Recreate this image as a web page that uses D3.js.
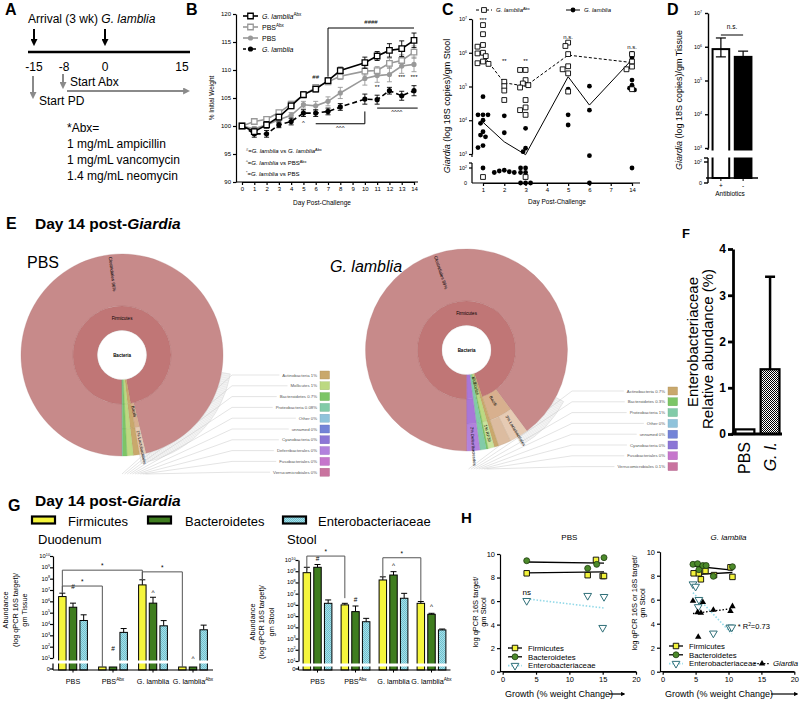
<!DOCTYPE html>
<html><head><meta charset="utf-8">
<script src="https://cdn.jsdelivr.net/npm/d3@7"></script>
<style>body{margin:0;background:#fff}svg{display:block}</style>
</head><body><svg id="c" width="800" height="701"></svg>
<script>
// ================= DATA =================
// Panel A (timeline, days)
const aTicks = [-15, -8, 0, 15];
const aAbx = ["*Abx=", "1 mg/mL ampicillin", "1 mg/mL vancomycin", "1.4 mg/mL neomycin"];
// Panel B (% initial weight, mean and SEM)
const bDays = [0,1,2,3,4,5,6,7,8,10,11,12,13,14];
const bGlAbx    = [100,99.0,100.2,101.6,103.6,105.6,106.6,108.1,109.9,111.3,112.5,113.5,113.8,115.3];
const bGlAbxErr = [0.3,0.6,0.6,0.5,0.5,0.5,0.5,0.5,0.6,1.0,0.8,1.2,1.4,1.3];
const bPbsAbx    = [100,100.8,101.2,102.4,103.9,105.5,106.9,107.9,108.9,109.8,109.9,111.2,111.7,113.2];
const bPbsAbxErr = [0.3,0.4,0.4,0.4,0.5,0.5,0.5,0.5,0.6,0.7,0.7,0.9,1.0,1.1];
const bPbs    = [100,99.5,100.2,101.1,101.9,103.8,103.6,104.4,105.9,108.5,109.0,109.2,110.7,111.0];
const bPbsErr = [0.3,0.4,0.4,0.5,0.5,0.6,0.8,0.8,1.0,1.2,1.2,1.3,1.3,1.3];
const bGl    = [100,98.6,98.6,100.2,100.8,102.3,102.3,102.6,103.4,104.8,104.7,106.3,105.4,106.3];
const bGlErr = [0.3,0.6,0.6,0.5,0.6,0.6,0.6,0.6,0.6,0.9,0.8,0.6,0.8,0.9];
// Panel C (log10 Giardia 18S copies / gm stool; null = 0)
const cDays = ["1","2","3","4","5","6","7","14"];
const cAbxDays = ["1","2","3","5","14"];
const cAbxVals = [
  [6.82,6.55,6.23,6.18,6.0,5.98,5.9,5.74,5.69,5.67,1.4],
  [5.14,5.01,4.88,4.6],
  [5.49,5.49,5.19,5.09,5.04,4.97,4.6,4.38,4.3,4.16,1.4],
  [6.3,6.2,5.96,5.6,5.51,5.39,4.85],
  [5.96,5.74,5.59,5.51,4.92]];
const cAbxMean = [5.93,5.11,5.01,5.93,5.71];
const cGlDays = ["1","2","3","5","6","14"];
const cGlVals = [
  [4.7,4.16,4.16,4.16,4.0,3.91,3.66,3.56,3.51,3.25,3.19,2.0],
  [4.13,3.63,1.85,1.8,1.75,1.7,1.7],
  [3.76,3.17,3.07,2.0,2.0,1.7,1.7,null,null,null],
  [4.92,4.16,3.86],
  [5.01,4.3,2.95,null],
  [5.98,5.85,5.19,5.04,4.95,4.9,2.0]];
const cGlMean = [3.94,3.36,2.98,5.29,4.45,5.8];
const cSig = [["1","***"],["2","**"],["3","**"],["5","n.s."],["14","n.s."]];
const cSigLevel = [6.9, 5.7, 5.7, 6.4, 6.1];
// Panel D (log10 copies / gm tissue)
const dGroups = ["+","-"];
const dVals = [5.93, 5.70];
const dErrHi = [6.26, 5.87];
const dErrLo = [5.70, 5.70];
// Panel E (Krona composition, %)
const ePbsOrders  = ["Clostridiales","Lactobacillales","Actinobacteria","Mollicutes","Bacteroidetes","Proteobacteria"];
const ePbsClasses = ["Clostridia","Bacilli","Actinobacteria","Mollicutes","Bacteroidetes","Proteobacteria"];
const ePbsPhyla   = ["Firmicutes","Firmicutes","Actinobacteria","Mollicutes","Bacteroidetes","Proteobacteria"];
const ePbsPct     = [96, 1, 1, 1, 0.7, 0.08];
const ePbsLegend    = ["Actinobacteria","Mollicutes","Bacteroidetes","Proteobacteria","Other","unnamed","Cyanobacteria","Deferribacterales","Fusobacteriales","Verrucomicrobiales"];
const ePbsLegendPct = ["1%","1%","0.7%","0.08%","0%","0%","0%","0%","0%","0%"];
const eGlOrders  = ["Clostridiales","Lactobacillales","Erysipelotrichales","Actinobacteria","RF39","Bacteroidetes","Proteobacteria","Deferribacterales","Verrucomicrobiales"];
const eGlClasses = ["Clostridia","Bacilli","Bacilli","Actinobacteria","Mollicutes","Bacteroidetes","Proteobacteria","Deferribacteres","Verrucomicrobia"];
const eGlPhyla   = ["Firmicutes","Firmicutes","Firmicutes","Actinobacteria","Mollicutes","Bacteroidetes","Proteobacteria","Deferribacteres","Verrucomicrobia"];
const eGlPct     = [89, 3, 2, 0.7, 1, 0.3, 1, 2, 0.1];
const eGlLegend    = ["Actinobacteria","Bacteroidetes","Proteobacteria","Other","unnamed","Cyanobacteria","Fusobacteriales","Verrucomicrobiales"];
const eGlLegendPct = ["0.7%","0.3%","1%","0%","0%","0%","0%","0.1%"];
// Panel F (relative abundance %)
const fGroups = ["PBS","G. l."];
const fVals = [0.1, 1.4];
const fErr  = [0, 2.0];
// Panel G (log10 abundance; 0 = none detected)
const gGroups = ["PBS","PBSAbx","G. lamblia","G. lambliaAbx"];
const gSeries = ["Firmicutes","Bacteroidetes","Enterobacteriaceae"];
const gDuoFirm = [6.42, 0, 7.45, 0],  gDuoFirmErr = [6.72, null, 7.9, null];
const gDuoBact = [5.48, 0, 5.84, 0],  gDuoBactErr = [5.84, null, 6.36, null];
const gDuoEnt  = [4.31, 3.26, 3.84, 3.49], gDuoEntErr = [4.81, 3.6, 4.3, 3.9];
const gStFirm = [8.87, 6.0, 8.22, 6.14], gStFirmErr = [9.35, 6.14, 8.5, 6.3];
const gStBact = [9.35, 5.4, 8.66, 5.16], gStBactErr = [9.6, 5.9, 8.96, 5.25];
const gStEnt  = [6.14, 4.5, 6.59, 3.77], gStEntErr = [6.44, 4.8, 7.03, 3.85];
// Panel H (growth % vs log qPCR)
const hPbsFirmX = [3.6,12.75,14.0,15.0,15.2], hPbsFirmY = [8.36,8.2,9.5,8.13,8.13];
const hPbsBactX = [3.6,12.75,14.1,15.2],      hPbsBactY = [9.43,8.78,9.12,9.69];
const hPbsEntX  = [3.6,12.75,15.2,15.0],      hPbsEntY  = [6.03,6.46,6.37,3.74];
const hGlFirmX = [4.7,5.5,5.8,6.5,7.8,10.3,10.6], hGlFirmY = [8.2,8.2,7.7,8.4,8.05,8.7,7.9];
const hGlBactX = [4.6,5.3,5.5,6.1,6.6,7.7,10.6],  hGlBactY = [8.95,9.0,8.5,8.85,8.85,7.95,8.75];
const hGlEntX  = [4.6,5.0,5.5,5.4,7.7,10.2,10.5], hGlEntY  = [7.3,7.1,6.0,5.4,3.2,3.7,3.7];
const hGlGiaX  = [4.6,6.1,5.3,5.8,7.7,10.3,10.6,5.4], hGlGiaY = [5.9,5.8,4.95,4.9,5.15,5.05,5.45,2.9];

// ================= HELPERS =================
const F = "'Liberation Sans', Arial, Helvetica, sans-serif";
const svg = d3.select("#c");
const defs = svg.append("defs");
function mk(id, color) {
  defs.append("marker").attr("id", id).attr("viewBox", "0 0 10 10").attr("refX", 7).attr("refY", 5)
    .attr("markerWidth", 3.5).attr("markerHeight", 3.5).attr("orient", "auto")
    .append("path").attr("d", "M0,0L10,5L0,10z").attr("fill", color);
}
mk("ahK", "#000"); mk("ahG", "#8a8a8a");
const chk = defs.append("pattern").attr("id", "chk").attr("width", 2).attr("height", 2).attr("patternUnits", "userSpaceOnUse");
chk.append("rect").attr("width", 2).attr("height", 2).attr("fill", "#fff");
chk.append("rect").attr("width", 1).attr("height", 1).attr("fill", "#000");
chk.append("rect").attr("x", 1).attr("y", 1).attr("width", 1).attr("height", 1).attr("fill", "#000");
const ent = defs.append("pattern").attr("id", "ent").attr("width", 2).attr("height", 2).attr("patternUnits", "userSpaceOnUse");
ent.append("rect").attr("width", 2).attr("height", 2).attr("fill", "#a6e0ea");
ent.append("rect").attr("width", 1).attr("height", 1).attr("fill", "#6fbfcc");
ent.append("rect").attr("x", 1).attr("y", 1).attr("width", 1).attr("height", 1).attr("fill", "#6fbfcc");

function txt(g, x, y, parts, o = {}) {
  const fs = o.fs || 10;
  const t = g.append("text").attr("x", x).attr("y", y).attr("font-size", fs).attr("font-family", F)
    .attr("text-anchor", o.anchor || "start").attr("fill", o.fill || "#000");
  if (o.bold) t.attr("font-weight", "bold");
  if (o.italic) t.attr("font-style", "italic");
  if (o.rotate) t.attr("transform", `rotate(${o.rotate},${x},${y})`);
  if (typeof parts === "string") parts = [[parts, ""]];
  let up = false;
  for (const [s, f] of parts) {
    const ts = t.append("tspan").text(s);
    if (f.includes("i")) ts.attr("font-style", "italic");
    if (f.includes("b")) ts.attr("font-weight", "bold");
    const sup = f.includes("s");
    if (sup) ts.attr("font-size", fs * 0.65);
    if (sup && !up) { ts.attr("dy", -fs * 0.4); up = true; }
    else if (!sup && up) { ts.attr("dy", fs * 0.4); up = false; }
  }
  return t;
}
function line(g, x1, y1, x2, y2, c = "#000", w = 1, dash = null) {
  const l = g.append("line").attr("x1", x1).attr("y1", y1).attr("x2", x2).attr("y2", y2).attr("stroke", c).attr("stroke-width", w);
  if (dash) l.attr("stroke-dasharray", dash);
  return l;
}
function styl(sel, sw = 1, fs = 6) {
  sel.attr("font-family", F).attr("font-size", fs);
  sel.selectAll(".domain").attr("stroke", "#000").attr("stroke-width", sw);
  sel.selectAll(".tick line").attr("stroke", "#000").attr("stroke-width", sw);
  sel.selectAll(".tick text").attr("fill", "#000");
  return sel;
}
function pow(e) { return [["10", ""], [String(e), "s"]]; }
const sqPath = s => `M${-s/2},${-s/2}h${s}v${s}h${-s}z`;

// ================= PANEL A =================
{
  const g = svg.append("g");
  const xA = d3.scaleLinear().domain([-15, -8, 0, 15]).range([34, 64, 105, 182]);
  txt(g, 5, 15, "A", { fs: 16, bold: true });
  txt(g, 28, 23, [["Arrival (3 wk) ", ""], ["G. lamblia", "i"]], { fs: 12 });
  line(g, 28, 52, 190, 52, "#000", 2.5);
  line(g, xA(-15), 29, xA(-15), 44, "#000", 2).attr("marker-end", "url(#ahK)");
  line(g, xA(0), 29, xA(0), 44, "#000", 2).attr("marker-end", "url(#ahK)");
  aTicks.forEach(d => txt(g, xA(d), 71, String(d), { fs: 12, anchor: "middle" }));
  line(g, xA(-15) - 1, 76, xA(-15) - 1, 97, "#8a8a8a", 2).attr("marker-end", "url(#ahG)");
  txt(g, 39, 105, "Start PD", { fs: 12 });
  line(g, xA(-8) - 1, 74, xA(-8) - 1, 87, "#8a8a8a", 2).attr("marker-end", "url(#ahG)");
  txt(g, 70, 86, "Start Abx", { fs: 12 });
  line(g, xA(-8) + 3, 91, 188, 91, "#8a8a8a", 2).attr("marker-end", "url(#ahG)");
  aAbx.forEach((s, i) => txt(g, 67, 132 + i * 16, s, { fs: 12 }));
}

// ================= PANEL B =================
{
  const g = svg.append("g");
  const xB = d3.scaleLinear([0, 14], [242, 414]);
  const yB = d3.scaleLinear([90, 120], [182, 14]);
  txt(g, 186, 15, "B", { fs: 16, bold: true });
  styl(g.append("g").attr("transform", "translate(236,0)")
    .call(d3.axisLeft(yB).tickValues(d3.range(90, 121, 5)).tickSize(3).tickSizeOuter(0).tickPadding(2)), 1.2, 6);
  styl(g.append("g").attr("transform", "translate(0,182)")
    .call(d3.axisBottom(xB).tickValues(d3.range(0, 15)).tickSize(3).tickSizeOuter(0).tickPadding(2)), 1.2, 6);
  line(g, 236, 182, 418, 182, "#000", 1.2);
  txt(g, 214, 98, "% Initial Weight", { fs: 6.5, anchor: "middle", rotate: -90 });
  txt(g, 322, 205, "Day Post-Challenge", { fs: 6.5, anchor: "middle" });
  const series = [
    { v: bPbs, e: bPbsErr, c: "#999", dash: null, m: "circle", fill: "#999" },
    { v: bPbsAbx, e: bPbsAbxErr, c: "#999", dash: null, m: "sq", fill: "#fff" },
    { v: bGl, e: bGlErr, c: "#000", dash: "5,3", m: "circle", fill: "#000" },
    { v: bGlAbx, e: bGlAbxErr, c: "#000", dash: null, m: "sq", fill: "#fff" }];
  const ln = d3.line().x((d, i) => xB(bDays[i])).y(d => yB(d));
  series.forEach(s => {
    const p = g.append("path").attr("d", ln(s.v)).attr("fill", "none").attr("stroke", s.c).attr("stroke-width", 1.6);
    if (s.dash) p.attr("stroke-dasharray", s.dash);
    s.v.forEach((v, i) => {
      const x = xB(bDays[i]);
      line(g, x, yB(v - s.e[i]), x, yB(v + s.e[i]), s.c, 0.9);
      line(g, x - 2.5, yB(v + s.e[i]), x + 2.5, yB(v + s.e[i]), s.c, 0.9);
      line(g, x - 2.5, yB(v - s.e[i]), x + 2.5, yB(v - s.e[i]), s.c, 0.9);
    });
    s.v.forEach((v, i) => {
      const x = xB(bDays[i]), y = yB(v);
      if (s.m === "sq") g.append("path").attr("d", sqPath(5.5)).attr("transform", `translate(${x},${y})`).attr("fill", s.fill).attr("stroke", s.c).attr("stroke-width", 1.3);
      else g.append("circle").attr("cx", x).attr("cy", y).attr("r", 2.6).attr("fill", s.fill);
    });
  });
  const lg = [
    { s: series[3], t: [["G. lamblia", "i"], ["Abx", "s"]] },
    { s: series[1], t: [["PBS", ""], ["Abx", "s"]] },
    { s: series[0], t: [["PBS", ""]] },
    { s: series[2], t: [["G. lamblia", "i"]] }];
  lg.forEach((d, i) => {
    const y = 16 + i * 11;
    const l = line(g, 243, y, 258, y, d.s.c, 1.6); if (d.s.dash) l.attr("stroke-dasharray", "3,2");
    if (d.s.m === "sq") g.append("path").attr("d", sqPath(5.5)).attr("transform", `translate(250.5,${y})`).attr("fill", "#fff").attr("stroke", d.s.c).attr("stroke-width", 1.3);
    else g.append("circle").attr("cx", 250.5).attr("cy", y).attr("r", 2.6).attr("fill", d.s.fill);
    txt(g, 262, y + 2.5, d.t, { fs: 7 });
  });
  txt(g, 246, 153, [["#", "s"], ["=", ""], ["G. lamblia", "i"], [" vs ", ""], ["G. lamblia", "i"], ["Abx", "s"]], { fs: 6 });
  txt(g, 246, 165, [["^", "s"], ["=", ""], ["G. lamblia", "i"], [" vs PBS", ""], ["Abx", "s"]], { fs: 6 });
  txt(g, 246, 176, [["*", "s"], ["=", ""], ["G. lamblia", "i"], [" vs PBS", ""]], { fs: 6 });
  line(g, xB(7), yB(117.5), xB(14), yB(117.5), "#000", 1);
  line(g, xB(7), yB(117.5), xB(7), yB(108.8), "#000", 1);
  txt(g, xB(10.5), yB(118.2), "####", { fs: 6, anchor: "middle" });
  txt(g, xB(6), yB(108.4), "##", { fs: 6, anchor: "middle" });
  txt(g, xB(5), yB(100.2), "^", { fs: 6, anchor: "middle" });
  line(g, xB(6), yB(100.4), xB(10), yB(100.4), "#000", 1);
  line(g, xB(10), yB(100.4), xB(10), yB(102.6), "#000", 1);
  txt(g, xB(8), yB(99.3), "^^^", { fs: 6, anchor: "middle" });
  line(g, xB(11), yB(103.2), xB(14.3), yB(103.2), "#000", 1);
  txt(g, xB(12.6), yB(102.1), "^^^^", { fs: 6, anchor: "middle" });
  txt(g, xB(11), yB(106.6), "**", { fs: 6, anchor: "middle" });
  txt(g, xB(13), yB(108.4), "***", { fs: 6, anchor: "middle" });
  txt(g, xB(14), yB(108.4), "***", { fs: 6, anchor: "middle" });
}

// ================= PANEL C =================
function swarm(ys, cx, d) {
  const placed = [], xs = new Array(ys.length);
  const order = d3.range(ys.length).sort((a, b) => ys[a] - ys[b]);
  for (const i of order) {
    let k = 0, x;
    while (true) {
      const off = k === 0 ? 0 : (k % 2 ? -1 : 1) * Math.ceil(k / 2) * d * 0.5;
      x = cx + off;
      if (!placed.some(p => Math.hypot(p[0] - x, p[1] - ys[i]) < d * 0.78)) break;
      k++;
    }
    placed.push([x, ys[i]]); xs[i] = x;
  }
  return xs;
}
{
  const g = svg.append("g");
  const xC = d3.scalePoint(cDays, [483, 632]);
  const yCu = d3.scaleLog([1e3, 1e7], [154, 19]);
  const yClo = d3.scaleLog([10, 100], [183, 168]);
  const yC = v => v == null ? 183 : (v >= 2.5 ? yCu(10 ** v) : yClo(10 ** Math.max(1, v)));
  txt(g, 442, 15, "C", { fs: 16, bold: true });
  const ax = g.append("g").attr("transform", "translate(472,0)")
    .call(d3.axisLeft(yCu).tickValues([1e3, 1e4, 1e5, 1e6, 1e7]).tickFormat("").tickSize(3).tickSizeOuter(0));
  styl(ax, 1.2, 6);
  line(g, 472, 157, 472, 154, "#000", 1.2);
  line(g, 472, 163, 472, 183, "#000", 1.2);
  line(g, 469, 168, 472, 168, "#000", 1.2);
  line(g, 469, 163, 472, 163, "#000", 1.2);
  [3, 4, 5, 6, 7].forEach(e => txt(g, 467, yCu(10 ** e) + 2, pow(e), { fs: 5.5, anchor: "end" }));
  txt(g, 467, 170, pow(2), { fs: 5.5, anchor: "end" });
  txt(g, 467, 185, "0", { fs: 5.5, anchor: "end" });
  const bx = g.append("g").attr("transform", "translate(0,183)")
    .call(d3.axisBottom(xC).tickSize(3).tickSizeOuter(0).tickPadding(2));
  styl(bx, 1.2, 6);
  line(g, 472, 183, 640, 183, "#000", 1.2);
  txt(g, 557, 204, "Day Post-Challenge", { fs: 6.5, anchor: "middle" });
  txt(g, 450, 106, [["Giardia", "i"], ["  (log  18S  copies)/gm  Stool", ""]], { fs: 9, anchor: "middle", rotate: -90 });
  g.append("path").attr("d", d3.line().x((d, i) => xC(cAbxDays[i])).y(d => yC(d))(cAbxMean))
    .attr("fill", "none").attr("stroke", "#000").attr("stroke-width", 1).attr("stroke-dasharray", "3,2");
  g.append("path").attr("d", d3.line().x((d, i) => xC(cGlDays[i])).y(d => yC(d))(cGlMean))
    .attr("fill", "none").attr("stroke", "#000").attr("stroke-width", 1);
  cGlVals.forEach((arr, k) => {
    const ys = arr.map(yC); const xs = swarm(ys, xC(cGlDays[k]), 5);
    ys.forEach((y, i) => g.append("circle").attr("cx", xs[i]).attr("cy", y).attr("r", 2.4).attr("fill", "#000"));
  });
  cAbxVals.forEach((arr, k) => {
    const ys = arr.map(yC); const xs = swarm(ys, xC(cAbxDays[k]), 5.5);
    ys.forEach((y, i) => g.append("path").attr("d", sqPath(4.8)).attr("transform", `translate(${xs[i]},${y})`)
      .attr("fill", "#fff").attr("stroke", "#000").attr("stroke-width", 0.9));
  });
  cSig.forEach(([d, s], i) => txt(g, xC(d), yC(cSigLevel[i]), s, { fs: 6, anchor: "middle" }));
  line(g, 476, 10, 492, 10, "#000", 1, "3,2");
  g.append("path").attr("d", sqPath(4.8)).attr("transform", "translate(484,10)").attr("fill", "#fff").attr("stroke", "#000").attr("stroke-width", 0.9);
  txt(g, 496, 12, [["G. lamblia", "i"], ["Abx", "s"]], { fs: 6 });
  line(g, 566, 10, 580, 10, "#000", 1);
  g.append("circle").attr("cx", 573).attr("cy", 10).attr("r", 2.4).attr("fill", "#000");
  txt(g, 584, 12, [["G. lamblia", "i"]], { fs: 6 });
}

// ================= PANEL D =================
{
  const g = svg.append("g");
  const xD = d3.scaleBand(dGroups, [707, 757]).padding(0.25);
  const yD = d3.scaleLog([1e3, 1e7], [148, 13]);
  txt(g, 667, 15, "D", { fs: 16, bold: true });
  dGroups.forEach((k, i) => {
    const x = xD(k), w = xD.bandwidth();
    g.append("rect").attr("x", x).attr("y", yD(10 ** dVals[i])).attr("width", w).attr("height", 178 - yD(10 ** dVals[i]))
      .attr("fill", i === 0 ? "#fff" : "#000").attr("stroke", "#000").attr("stroke-width", 2);
    const cx = x + w / 2;
    const lo = i === 0 ? dErrLo[i] : dVals[i];
    line(g, cx, yD(10 ** dErrHi[i]), cx, yD(10 ** lo), "#000", 1.2);
    line(g, cx - 5, yD(10 ** dErrHi[i]), cx + 5, yD(10 ** dErrHi[i]), "#000", 1.2);
    if (i === 0) line(g, cx - 5, yD(10 ** lo), cx + 5, yD(10 ** lo), "#000", 1.2);
  });
  g.append("rect").attr("x", 707).attr("y", 150.5).attr("width", 52).attr("height", 7).attr("fill", "#fff");
  const ax = g.append("g").attr("transform", "translate(708,0)")
    .call(d3.axisLeft(yD).tickValues([1e3, 1e4, 1e5, 1e6, 1e7]).tickFormat("").tickSize(3).tickSizeOuter(0));
  styl(ax, 1.4, 6);
  line(g, 708, 148, 708, 150, "#000", 1.4);
  line(g, 708, 158, 708, 183, "#000", 1.4);
  line(g, 704, 162, 708, 162, "#000", 1.4);
  line(g, 704, 158, 708, 158, "#000", 1.4);
  line(g, 704, 183, 708, 183, "#000", 1.4);
  [3, 4, 5, 6, 7].forEach(e => txt(g, 702, yD(10 ** e) + 2, pow(e), { fs: 5.5, anchor: "end" }));
  txt(g, 702, 164, pow(2), { fs: 5.5, anchor: "end" });
  txt(g, 702, 185, "0", { fs: 5.5, anchor: "end" });
  line(g, 706, 178, 758, 178, "#000", 1.4);
  dGroups.forEach(k => {
    const cx = xD(k) + xD.bandwidth() / 2;
    line(g, cx, 178, cx, 181, "#000", 1);
    txt(g, cx, 188, k, { fs: 6.5, anchor: "middle" });
  });
  txt(g, 730, 196, "Antibiotics", { fs: 6.5, anchor: "middle" });
  const c0 = xD("+") + xD.bandwidth() / 2, c1 = xD("-") + xD.bandwidth() / 2;
  line(g, c0, 35, c1, 35, "#000", 1);
  txt(g, (c0 + c1) / 2, 29, "n.s.", { fs: 6.5, anchor: "middle" });
  txt(g, 682, 100, [["Giardia", "i"], ["  (log  18S  copies)/gm  Tissue", ""]], { fs: 9, anchor: "middle", rotate: -90 });
}

// ================= PANEL E =================
const eColor = {
  Firmicutes: "#c07676", Clostridia: "#c78a8a", Clostridiales: "#c78a8a", Bacilli: "#d8b08e",
  Lactobacillales: "#e6cbb4", Erysipelotrichales: "#dcbca0", Actinobacteria: "#c9a86c",
  Mollicutes: "#bcd981", RF39: "#c9e39c", Bacteroidetes: "#7cc566", Proteobacteria: "#82cba8",
  Deferribacteres: "#a877d8", Deferribacterales: "#b282dd", Verrucomicrobia: "#c9739f",
  Verrucomicrobiales: "#c9739f", Other: "#8fc3db", unnamed: "#7383d7", Cyanobacteria: "#8c76d6",
  Fusobacteriales: "#c676cc"
};
const R0 = 24.5, R1 = 49, R2 = 74, R3 = 101;
function sunburst(g, cx, cy, orders, classes, phyla, pct, labelList) {
  const tot = d3.sum(pct);
  const ang = d3.scaleLinear([0, tot], [-Math.PI, Math.PI]);
  let cum = 0;
  const it = orders.map((o, i) => { const s = cum; cum += pct[i]; return { o, c: classes[i], p: phyla[i], s: ang(s), e: ang(cum), pct: pct[i] }; });
  const gg = g.append("g").attr("transform", `translate(${cx},${cy})`);
  const arc = d3.arc();
  const groupBy = key => { const out = []; it.forEach(d => { const l = out[out.length - 1]; if (l && l.k === d[key]) l.e = d.e; else out.push({ k: d[key], s: d.s, e: d.e }); }); return out; };
  const draw = (r0, r1, s, e, col) => gg.append("path").attr("d", arc({ innerRadius: r0, outerRadius: r1, startAngle: s, endAngle: e }))
    .attr("fill", col).attr("stroke", d3.color(col).darker(0.35)).attr("stroke-width", 0.3);
  const merged = d => eColor[d.c] === eColor[d.o] && d.c !== d.o;
  it.forEach(d => { if (merged(d)) draw(R1, R3, d.s, d.e, eColor[d.o]); });
  groupBy("c").forEach(d => { const f = it.find(x => x.c === d.k); if (!merged(f)) draw(R1, R2, d.s, d.e, eColor[d.k]); });
  it.forEach(d => { if (!merged(d)) draw(R2, R3, d.s, d.e, eColor[d.o]); });
  groupBy("p").forEach(d => draw(R0, R1, d.s, d.e, eColor[d.k]));
  gg.append("circle").attr("r", R0).attr("fill", "#fff").attr("stroke", "#ccc").attr("stroke-width", 0.3);
  txt(gg, 0, 1.5, "Bacteria", { fs: 4.5, bold: true, anchor: "middle" });
  const big = it[0];
  const bm = (big.s + big.e) / 2, deg = bm * 180 / Math.PI;
  txt(gg, 0, -35, "Firmicutes", { fs: 4.5, anchor: "middle" });
  txt(gg, 99 * Math.sin(bm), -99 * Math.cos(bm), `${big.o}  ${big.pct}%`, { fs: 4.5, anchor: "start", rotate: deg + 90 }).attr("dy", 1.5);
  labelList.forEach(([name, ring]) => {
    const d = it.find(x => x.o === name || x.c === name || x.p === name);
    const key = ring === 0 ? "p" : ring === 1 ? "c" : "o";
    const grp = it.filter(x => x[key] === d[key]);
    const s = grp[0].s, e = grp[grp.length - 1].e;
    const m = (s + e) / 2, dg = m * 180 / Math.PI;
    const r = ring === 0 ? R0 + 3 : ring === 1 ? R1 + 3 : R2 + 3;
    const pc = d3.sum(grp, x => x.pct);
    const lab = ring === 2 ? `${Math.round(pc)}%  ${name}` : name;
    txt(gg, r * Math.sin(m), -r * Math.cos(m), lab, { fs: 4.2, rotate: dg - 90 }).attr("dy", 1.4);
  });
}
function eLegend(g, cx, cy, names, pcts, swX, y0, fanX, bandA, botDx) {
  const yL = d3.scaleLinear([0, 1], [y0, y0 + 10.8]);
  const gg = g.append("g").attr("transform", `translate(${cx},${cy})`);
  const a0 = bandA[0] * Math.PI / 180, a1 = bandA[1] * Math.PI / 180;
  gg.append("path").attr("d", d3.arc()({ innerRadius: R3 + 0.5, outerRadius: R3 + 9, startAngle: a0, endAngle: a1 }))
    .attr("fill", "#f3f3f3").attr("stroke", "#d0d0d0").attr("stroke-width", 0.4);
  d3.range(bandA[0], bandA[1], 1.2).forEach(dg => {
    const a = dg * Math.PI / 180;
    line(gg, (R3 + 0.5) * Math.sin(a), -(R3 + 0.5) * Math.cos(a), (R3 + 9) * Math.sin(a), -(R3 + 9) * Math.cos(a), "#d6d6d6", 0.3);
  });
  names.forEach((n, i) => {
    const y = yL(i);
    const t = txt(g, swX - 3, y + 1.5, `${n}  ${pcts[i]}`, { fs: 4.3, anchor: "end", fill: "#555" });
    const w = t.node().getComputedTextLength();
    g.append("rect").attr("x", swX).attr("y", y - 4).attr("width", 9.5).attr("height", 8)
      .attr("fill", eColor[n]).attr("stroke", d3.color(eColor[n]).darker(0.4)).attr("stroke-width", 0.4);
    const bxp = cx + botDx + i * 2.6, byp = cy + R3 + 18;
    g.append("path").attr("d", `M${swX - 6 - w},${y}H${fanX}L${bxp},${byp}`).attr("fill", "none").attr("stroke", "#c8c8c8").attr("stroke-width", 0.5);
  });
}
{
  const g = svg.append("g");
  txt(g, 6, 229, "E", { fs: 16, bold: true });
  txt(g, 35, 229, [["Day 14 post-", ""], ["Giardia", "i"]], { fs: 15.5, bold: true });
  txt(g, 27, 268, "PBS", { fs: 16 });
  txt(g, 330, 272, "G. lamblia", { fs: 16, italic: true });
  eLegend(g, 122, 355, ePbsLegend, ePbsLegendPct, 320, 375, 232, [100, 170], 0);
  sunburst(g, 122, 355, ePbsOrders, ePbsClasses, ePbsPhyla, ePbsPct, [["Bacilli", 1], ["Lactobacillales", 2]]);
  eLegend(g, 466.5, 350, eGlLegend, eGlLegendPct, 668, 391, 572, [118, 150], 2);
  sunburst(g, 466.5, 350, eGlOrders, eGlClasses, eGlPhyla, eGlPct,
    [["Mollicutes", 0], ["Bacilli", 1], ["Lactobacillales", 2], ["RF39", 2], ["Deferribacterales", 2]]);
}

// ================= PANEL F =================
{
  const g = svg.append("g");
  const xF = d3.scaleBand(fGroups, [733, 782]).paddingInner(0.25).paddingOuter(0.1);
  const yF = d3.scaleLinear([0, 4], [434, 249]);
  txt(g, 682, 238, "F", { fs: 13, bold: true });
  fGroups.forEach((k, i) => {
    const x = xF(k), w = xF.bandwidth(), cx = x + w / 2;
    if (fErr[i] > 0) {
      line(g, cx, yF(fVals[i]), cx, yF(fVals[i] + fErr[i]), "#000", 2.5);
      line(g, cx - 5, yF(fVals[i] + fErr[i]), cx + 5, yF(fVals[i] + fErr[i]), "#000", 2.5);
    }
    g.append("rect").attr("x", x).attr("y", yF(fVals[i])).attr("width", w).attr("height", 434 - yF(fVals[i]))
      .attr("fill", i === 0 ? "#fff" : "url(#chk)").attr("stroke", "#000").attr("stroke-width", 2.2);
    txt(g, cx + 5.5, 442, k === "PBS" ? "PBS" : [["G. l.", "i"]], { fs: 16, anchor: "end", rotate: -90 });
  });
  const ax = g.append("g").attr("transform", "translate(733,0)")
    .call(d3.axisLeft(yF).ticks(4).tickSize(5).tickSizeOuter(0).tickPadding(2));
  styl(ax, 2.8, 12);
  ax.selectAll(".tick text").attr("font-weight", "bold");
  line(g, 731.6, 434, 782, 434, "#000", 2.8);
  txt(g, 698, 342, "Enterobacteriaceae", { fs: 15, anchor: "middle", rotate: -90 });
  txt(g, 713, 349, "Relative abundance (%)", { fs: 15, anchor: "middle", rotate: -90 });
}

// ================= PANEL G =================
const gFill = { Firmicutes: "#f5f53c", Bacteroidetes: "#3f7d1f", Enterobacteriaceae: "url(#ent)" };
function gChart(o) {
  const g = svg.append("g");
  const yU = d3.scaleLog([10, 1e10], [o.y1, o.y10]);
  const yv = v => v === 0 ? o.y0 - 3 : yU(10 ** v);
  const xg = d3.scaleBand(gGroups, [o.xa, o.xb]);
  const xs = d3.scaleBand(gSeries, [-16, 16]).paddingInner(0.3).paddingOuter(0.15);
  const xc = (gi, si) => xg(gGroups[gi]) + xg.bandwidth() / 2 + xs(gSeries[si]) + xs.bandwidth() / 2;
  o.data.forEach((s, si) => s.v.forEach((v, gi) => {
    const x = xc(gi, si), w = xs.bandwidth();
    if (s.e[gi] != null) {
      line(g, x, yv(v), x, yU(10 ** s.e[gi]), "#000", 1);
      line(g, x - 3, yU(10 ** s.e[gi]), x + 3, yU(10 ** s.e[gi]), "#000", 1);
    }
    g.append("rect").attr("x", x - w / 2).attr("y", yv(v)).attr("width", w).attr("height", o.y0 - yv(v))
      .attr("fill", gFill[gSeries[si]]).attr("stroke", "#000").attr("stroke-width", 1);
  }));
  g.append("rect").attr("x", o.xa - 2).attr("y", o.y1 + 2.5).attr("width", o.xb - o.xa + 4).attr("height", 3).attr("fill", "#fff");
  const ax = g.append("g").attr("transform", `translate(${o.xa},0)`)
    .call(d3.axisLeft(yU).tickValues(d3.range(1, 11).map(e => 10 ** e)).tickFormat("").tickSize(3).tickSizeOuter(0));
  styl(ax, 1.2, 6);
  d3.range(1, 11).forEach(e => txt(g, o.xa - 3, yU(10 ** e) + 2, pow(e), { fs: 5.8, anchor: "end" }));
  line(g, o.xa, o.y1 + 5.5, o.xa, o.y0, "#000", 1.2);
  line(g, o.xa - 3, o.y0 - 1, o.xa, o.y0 - 1, "#000", 1.2);
  txt(g, o.xa - 3, o.y0 + 1, "0", { fs: 5.8, anchor: "end" });
  line(g, o.xa, o.y0, o.xb, o.y0, "#000", 1.2);
  const glab = [[["PBS", ""]], [["PBS", ""], ["Abx", "s"]], [["G. lamblia", ""]], [["G. lamblia", ""], ["Abx", "s"]]];
  gGroups.forEach((k, i) => {
    const cx = xg(k) + xg.bandwidth() / 2;
    line(g, cx, o.y0, cx, o.y0 + 2.5, "#000", 1);
    txt(g, cx, o.y0 + 14, glab[i], { fs: 7.2, anchor: "middle" });
  });
  o.title.forEach((t, i) => txt(g, o.tx + i * 9.5, o.ty, t, { fs: 7.3, anchor: "middle", rotate: -90 }));
  o.ann.forEach(([gi, si, s, lv]) => txt(g, xc(gi, si), yU(10 ** lv), s, { fs: 6.5, anchor: "middle" }));
  o.br.forEach(([ga, gb, top, la, lb]) => {
    const x1 = xc(ga, 0), x2 = xc(gb, 0);
    g.append("path").attr("d", `M${x1},${yU(10 ** la)}V${yU(10 ** top)}H${x2}V${lb === 0 ? o.y0 - 3 : yU(10 ** lb)}`)
      .attr("fill", "none").attr("stroke", "#555").attr("stroke-width", 1);
    txt(g, (x1 + x2) / 2, yU(10 ** top) - 2, "*", { fs: 6.5, anchor: "middle" });
  });
}
{
  const g = svg.append("g");
  txt(g, 8, 511, "G", { fs: 16, bold: true });
  txt(g, 35, 506, [["Day 14 post-", ""], ["Giardia", "i"]], { fs: 15.5, bold: true });
  const lx = [32, 148, 283], tx = [68, 185, 318];
  gSeries.forEach((s, i) => {
    g.append("rect").attr("x", lx[i]).attr("y", 516.5).attr("width", 23).attr("height", 7).attr("fill", gFill[s]).attr("stroke", "#000").attr("stroke-width", 2.2);
    txt(g, tx[i], 525.5, s, { fs: 13 });
  });
  txt(g, 38, 544, "Duodenum", { fs: 13 });
  txt(g, 287, 544, "Stool", { fs: 13 });
  gChart({ xa: 53, xb: 213, y10: 556, y1: 658, y0: 670,
    data: [{ v: gDuoFirm, e: gDuoFirmErr }, { v: gDuoBact, e: gDuoBactErr }, { v: gDuoEnt, e: gDuoEntErr }],
    title: ["Abundance", "(log qPCR 16S target)/", "gm Tissue"], tx: 8, ty: 610,
    ann: [[0, 1, "#", 7.05], [1, 1, "#", 1.6], [2, 1, "^", 6.6], [3, 1, "^", 0.75]],
    br: [[0, 2, 8.75, 6.75, 7.9], [0, 1, 7.35, 6.75, 0], [2, 3, 8.6, 7.9, 0]] });
  gChart({ xa: 298.5, xb: 450.5, y10: 560, y1: 661, y0: 670,
    data: [{ v: gStFirm, e: gStFirmErr }, { v: gStBact, e: gStBactErr }, { v: gStEnt, e: gStEntErr }],
    title: ["Abundance", "(log qPCR 16S target)/", "gm Stool"], tx: 254.5, ty: 622,
    ann: [[0, 1, "#", 9.9], [1, 1, "#", 6.3], [2, 1, "^", 9.3], [3, 1, "^", 5.65]],
    br: [[0, 1, 10.35, 9.1, 6.6], [2, 3, 10.2, 8.5, 6.35]] });
}

// ================= PANEL H =================
function fit(xs, ys) {
  const mx = d3.mean(xs), my = d3.mean(ys);
  const b = d3.sum(xs, (x, i) => (x - mx) * (ys[i] - my)) / d3.sum(xs, x => (x - mx) ** 2);
  const [x0, x1] = d3.extent(xs);
  return [[x0, my + b * (x0 - mx)], [x1, my + b * (x1 - mx)]];
}
const tri = d3.symbol().type(d3.symbolTriangle);
function hMark(g, kind, x, y) {
  if (kind === "F") g.append("path").attr("d", sqPath(5.5)).attr("transform", `translate(${x},${y})`).attr("fill", "#f3f33c").attr("stroke", "#000").attr("stroke-width", 0.9);
  else if (kind === "B") g.append("circle").attr("cx", x).attr("cy", y).attr("r", 3).attr("fill", "#4c8a2a").attr("stroke", "#1d3a0e").attr("stroke-width", 0.8);
  else if (kind === "E") g.append("path").attr("d", tri.size(26)()).attr("transform", `translate(${x},${y}) rotate(180)`).attr("fill", "#fff").attr("stroke", "#2f6f78").attr("stroke-width", 1);
  else g.append("path").attr("d", tri.size(18)()).attr("transform", `translate(${x},${y})`).attr("fill", "#000");
}
const hStyle = { F: ["#000", null, 1.3], B: ["#000", null, 1.3], E: ["#93d9e8", "1.5,1.8", 1.6], G: ["#000", "1.5,1.8", 1.3] };
function hChart(o) {
  const g = svg.append("g");
  const x = d3.scaleLinear([0, 20], [o.x0, o.x20]);
  const y = d3.scaleLinear([0, 10], [671.7, o.y10]);
  styl(g.append("g").attr("transform", `translate(${o.ax},0)`).call(d3.axisLeft(y).tickValues([0, 2, 4, 6, 8, 10]).tickSize(3).tickSizeOuter(0).tickPadding(2)), 1.2, 7.5);
  styl(g.append("g").attr("transform", "translate(0,671.7)").call(d3.axisBottom(x).tickValues([0, 5, 10, 15, 20]).tickSize(3).tickSizeOuter(0).tickPadding(2)), 1.2, 7.5);
  line(g, o.ax, 671.7, o.x20, 671.7, "#000", 1.2);
  o.series.forEach(([k, xs, ys]) => {
    const [p0, p1] = fit(xs, ys);
    line(g, x(p0[0]), y(p0[1]), x(p1[0]), y(p1[1]), hStyle[k][0], hStyle[k][2], hStyle[k][1]);
  });
  o.series.forEach(([k, xs, ys]) => xs.forEach((v, i) => hMark(g, k, x(v), y(ys[i]))));
  txt(g, (o.x0 + o.x20) / 2, 540, o.title, { fs: 8, anchor: "middle", italic: o.titleItalic });
  o.ylab.forEach((t, i) => txt(g, o.ylx + i * 8, o.yly, t, { fs: 7.5, anchor: "middle", rotate: -90 }));
  txt(g, o.xlx, 697, "Growth (% weight Change)", { fs: 9 });
  line(g, o.arr[0], 694, o.arr[1], 694, "#000", 1.2).attr("marker-end", "url(#ahK)");
  const names = ["Firmicutes", "Bacteroidetes", "Enterobacteriaceae"];
  ["F", "B", "E"].forEach((k, i) => {
    const ly = o.ly + i * 8.8;
    line(g, o.lx, ly, o.lx + 14, ly, hStyle[k][0], hStyle[k][2], hStyle[k][1]);
    hMark(g, k, o.lx + 7, ly);
    txt(g, o.lx + 20, ly + 2.8, names[i], { fs: 7.8 });
  });
  return { g, x, y };
}
{
  txt(svg, 461, 523, "H", { fs: 15, bold: true });
  const a = hChart({ x0: 502.7, x20: 636, ax: 500, y10: 554, title: "PBS", titleItalic: false,
    series: [["F", hPbsFirmX, hPbsFirmY], ["B", hPbsBactX, hPbsBactY], ["E", hPbsEntX, hPbsEntY]],
    ylab: ["log qPCR 16S target/", "gm Stool"], ylx: 478, yly: 612, xlx: 505, arr: [609, 624], lx: 508, ly: 648 });
  txt(a.g, a.x(3.6), a.y(6.5), "ns", { fs: 8, anchor: "middle" });
  const b = hChart({ x0: 662.7, x20: 794.3, ax: 660, y10: 551.7, title: "G. lamblia", titleItalic: true,
    series: [["F", hGlFirmX, hGlFirmY], ["B", hGlBactX, hGlBactY], ["E", hGlEntX, hGlEntY], ["G", hGlGiaX, hGlGiaY]],
    ylab: ["log qPCR 16S or 18S target/", "gm Stool"], ylx: 637, yly: 603, xlx: 665, arr: [771, 797], lx: 669, ly: 646 });
  txt(b.g, b.x(11.4), b.y(3.55), [["* R", ""], ["2", "s"], ["=0.73", ""]], { fs: 7.5 });
  line(b.g, 754, 663.6, 770, 663.6, "#000", 1.2, "1.5,1.8");
  hMark(b.g, "G", 762, 663.6);
  txt(b.g, 773, 666, "Giardia", { fs: 7.8, italic: true });
}
</script></body></html>
